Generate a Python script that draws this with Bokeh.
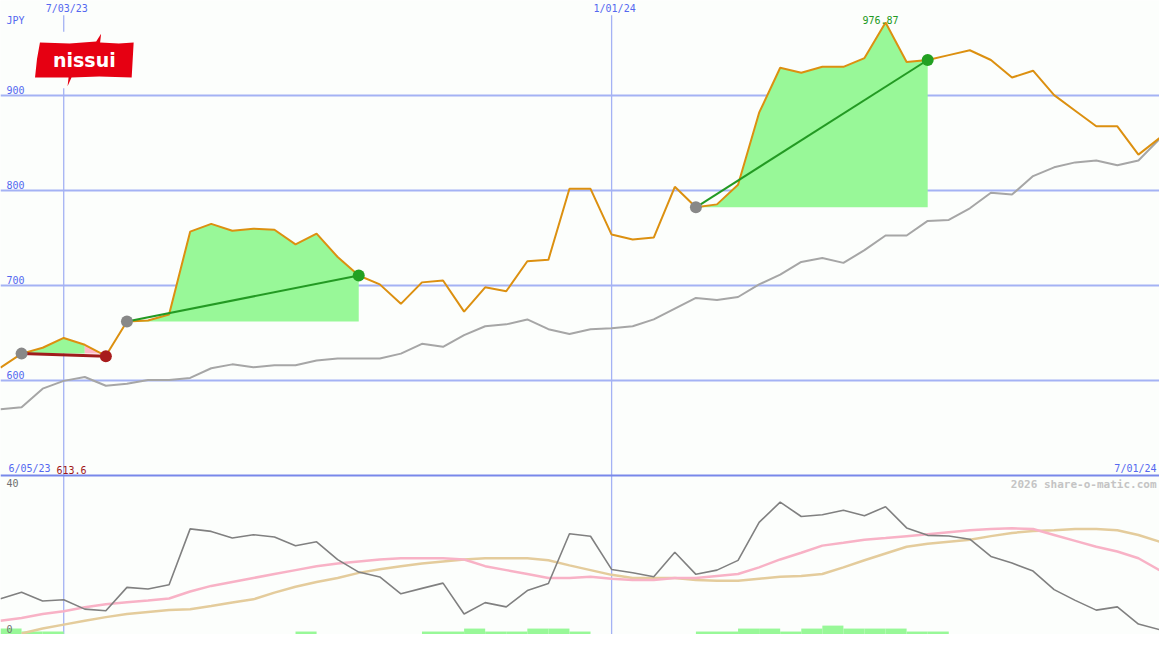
from bokeh.plotting import figure
from bokeh.models import Range1d, Span
from bokeh.embed import file_html
from bokeh.resources import INLINE
from bokeh.core.properties import value

# ---------------- data (weekly, first week = 6/12/23) ----------------
price = [613.6, 628.3, 634.5, 644.8, 637.6, 626.0, 662.2, 663.2, 669.4, 756.7,
         764.9, 757.7, 759.8, 758.7, 743.3, 754.6, 730.0, 710.5, 701.2, 680.7,
         703.3, 705.3, 672.5, 698.1, 694.0, 725.5, 727.0, 801.8, 801.8, 753.6,
         748.5, 750.5, 803.9, 782.3, 785.4, 806.0, 881.9, 929.2, 924.0, 930.2,
         930.2, 939.4, 976.87, 935.3, 937.4, 942.5, 947.6, 937.4, 918.9, 926.1,
         900.4, 884.0, 867.6, 867.6, 837.8, 855.2]
moving_avg = [569.8, 571.9, 591.4, 599.6, 603.7, 594.5, 596.5, 600.6, 600.6, 602.7,
              612.9, 617.0, 613.9, 616.0, 616.0, 621.1, 623.2, 623.2, 623.2, 628.3,
              638.6, 635.5, 647.8, 657.1, 659.1, 664.3, 654.0, 648.9, 654.0, 655.0,
              657.1, 664.3, 675.6, 686.9, 684.8, 687.9, 701.2, 711.5, 724.8, 728.9,
              723.8, 737.2, 752.6, 752.6, 768.0, 769.0, 781.3, 797.7, 795.7, 815.2,
              824.4, 829.6, 831.6, 826.5, 831.6, 854.2]
osc = [9.06, 10.69, 8.47, 8.81, 6.42, 6.0, 11.93, 11.53, 12.59, 26.74,
       26.1, 24.44, 25.26, 24.69, 22.47, 23.46, 18.94, 15.8, 14.57, 10.3,
       11.68, 13.0, 5.19, 8.07, 6.99, 11.11, 12.91, 25.51, 24.86, 16.47,
       15.63, 14.64, 20.81, 15.23, 16.3, 18.77, 28.4, 33.5, 29.88, 30.3,
       31.43, 30.05, 32.35, 26.99, 25.1, 24.94, 24.12, 19.75, 18.1, 16.05,
       11.36, 8.64, 6.17, 6.99, 2.64, 1.23]
osc_fast = [3.46, 4.2, 5.2, 5.9, 6.9, 7.65, 8.15, 8.6, 9.1, 10.9,
            12.3, 13.3, 14.3, 15.3, 16.3, 17.3, 18.0, 18.5, 19.0, 19.3,
            19.3, 19.3, 19.0, 17.3, 16.3, 15.3, 14.3, 14.3, 14.6, 14.1,
            13.8, 13.8, 14.3, 14.3, 14.8, 15.3, 17.0, 19.0, 20.7, 22.5,
            23.2, 24.0, 24.4, 24.9, 25.4, 25.9, 26.4, 26.7, 26.9, 26.7,
            25.2, 23.7, 22.2, 21.0, 19.3, 16.3]
osc_slow = [float("nan"), 0.25, 1.5, 2.5, 3.5, 4.4, 5.2, 5.7, 6.2, 6.4,
            7.2, 8.1, 8.9, 10.6, 12.1, 13.3, 14.3, 15.6, 16.5, 17.3,
            18.0, 18.5, 19.0, 19.3, 19.3, 19.3, 18.8, 17.5, 16.3, 15.1,
            14.3, 14.3, 14.3, 13.8, 13.6, 13.6, 14.1, 14.6, 14.8, 15.3,
            17.0, 18.8, 20.5, 22.2, 23.0, 23.5, 24.0, 24.9, 25.7, 26.2,
            26.4, 26.7, 26.7, 26.4, 25.2, 23.5]
bars = [1.5, 0.75, 0.75, 0, 0, 0, 0, 0, 0, 0,
        0, 0, 0, 0, 0.75, 0, 0, 0, 0, 0,
        0.75, 0.75, 1.5, 0.75, 0.75, 1.5, 1.5, 0.75, 0, 0,
        0, 0, 0, 0.75, 0.75, 1.5, 1.5, 0.75, 1.5, 2.25,
        1.5, 1.5, 1.5, 0.75, 0.75, 0, 0, 0, 0, 0,
        0, 0, 0, 0, 0, 0]
# trades: (entry week, exit week, exit price)
trades = [(1, 5, 625.5), (6, 17, 710.5), (33, 44, 937.4)]
y_ticks = [600, 700, 800, 900]
date_marks = [(3, "7/03/23"), (29, "1/01/24")]
start_label = "6/05/23"
end_label = "7/01/24"
currency = "JPY"
low_ticks = [40, 0]
peak_idx = 42

# ---------------- geometry helpers ----------------
N = len(price)
XMAX = N - 1
REF_W, REF_H = 1175, 650
MAIN_TOP, MAIN_BOT = 1000.0, 500.0
SEP_PX = 487
LOW_PX_PER_UNIT = 4.05


def sx(px):
    return px / REF_W * XMAX


def sy(py):
    return MAIN_TOP - py * (MAIN_TOP - MAIN_BOT) / SEP_PX


y_bottom = sy(REF_H)
low_top = REF_H / LOW_PX_PER_UNIT

BG = "#fcfefc"
GRID = "#a4b2f4"
BLUE = "#5468f0"
MONO = "DejaVu Sans Mono"
GREEN_FILL = "#98f898"
PINK_FILL = "#ffb8c8"

p = figure(width=1159, height=634, x_range=Range1d(0, XMAX),
           y_range=Range1d(y_bottom, MAIN_TOP), output_backend="svg",
           toolbar_location=None, x_axis_location=None, y_axis_location=None,
           min_border=0, background_fill_color=BG, border_fill_color=BG,
           outline_line_color=None)
p.grid.visible = False
p.extra_y_ranges = {"low": Range1d(0, low_top)}

# grid
for v in y_ticks:
    p.add_layout(Span(location=v, dimension="width", line_color=GRID,
                      line_width=2, level="underlay"))
p.segment(x0=[d[0] for d in date_marks], x1=[d[0] for d in date_marks],
          y0=sy(15), y1=y_bottom, line_color=GRID, line_width=1.3,
          level="underlay")
p.add_layout(Span(location=MAIN_BOT, dimension="width", line_color="#7888ea",
                  line_width=2))

# lower panel
p.quad(left=list(range(N)), right=[i + 1 for i in range(N)], bottom=0,
       top=bars, fill_color=GREEN_FILL, line_color=None, y_range_name="low")
p.line(list(range(N)), osc_slow, line_color="#e4cc9c", line_width=2.5,
       y_range_name="low")
p.line(list(range(N)), osc_fast, line_color="#f8b2c6", line_width=2.5,
       y_range_name="low")
p.line(list(range(N)), osc, line_color="#808080", line_width=1.6,
       y_range_name="low")

# trade fills: consecutive segments of the same colour merged into one area
for e, x, xp in trades:
    ent = price[e]
    runs = []
    for i in range(e, x):
        col = PINK_FILL if price[i + 1] < ent else GREEN_FILL
        if runs and runs[-1][0] == col:
            runs[-1][2] = i + 1
        else:
            runs.append([col, i, i + 1])
    for col, a, b in runs:
        xs = list(range(a, b + 1))
        p.varea(x=xs, y1=[ent] * len(xs), y2=price[a:b + 1], fill_color=col)

# main lines
p.line(list(range(N)), moving_avg, line_color="#a6a6a6", line_width=2)
p.line(list(range(N)), price, line_color="#dc9010", line_width=2)

for e, x, xp in trades:
    win = xp > price[e]
    p.line([e, x], [price[e], xp], line_color="#239a23" if win else "#a01c1c",
           line_width=2 if win else 3)
    p.scatter([e], [price[e]], size=12, fill_color="#888888", line_color=None)
    p.scatter([x], [xp], size=12, fill_color="#22a022" if win else "#a81c1c",
              line_color=None)

# logo
p.quad(left=sx(33), right=sx(137), top=sy(32), bottom=sy(90),
       fill_color=BG, line_color=None)
flag_px = [(40, 43), (70, 44), (97, 42), (102, 34), (101, 43), (120, 44),
           (135, 43), (133, 79), (100, 78), (72, 79), (68, 88), (69, 79),
           (50, 79), (35, 79), (37, 60)]
p.patch([sx(a) for a, b in flag_px], [sy(b) for a, b in flag_px],
        fill_color="#e60012", line_color=None)
p.text(x=[sx(85)], y=[sy(61)], text=["nissui"], text_font=value("DejaVu Sans"),
       text_font_style="bold", text_font_size="19px", text_color="white",
       text_align="center", text_baseline="middle")

# texts
def label(x, y, t, color=BLUE, align="left", baseline="bottom", xo=0, yo=0,
          size="10px", style="normal", rng="default"):
    kw = {} if rng == "default" else {"y_range_name": rng}
    p.text(x=[x], y=[y], text=[t], text_font=value(MONO), text_font_size=size,
           text_color=color, text_align=align, text_baseline=baseline,
           x_offset=xo, y_offset=yo, text_font_style=style, **kw)


label(0, sy(15), currency, xo=6, baseline="top")
for v in y_ticks:
    label(0, v, str(v), xo=6, yo=-2)
for i, t in date_marks:
    label(i, MAIN_TOP, t, align="center", baseline="top", xo=3, yo=2)
label(peak_idx, price[peak_idx], f"{price[peak_idx]:.2f}", color="#229922",
      align="center", xo=-5, yo=2)
label(0, MAIN_BOT, start_label, xo=8, yo=-2)
label(0, MAIN_BOT, f"{price[0]}", color="#a01818", xo=56, yo=-2)
label(XMAX, MAIN_BOT, end_label, align="right", xo=-3, yo=-2)
label(XMAX, low_ticks[0], "2026 share-o-matic.com", color="#c4c4c4",
      align="right", baseline="top", xo=-3, yo=2, size="11px", style="bold",
      rng="low")
label(0, low_ticks[0], str(low_ticks[0]), color="#707070", baseline="top",
      xo=6, yo=3, rng="low")
label(0, low_ticks[1], str(low_ticks[1]), color="#707070", xo=6, yo=-2,
      rng="low")

open("out.html", "w").write(file_html(p, INLINE))
